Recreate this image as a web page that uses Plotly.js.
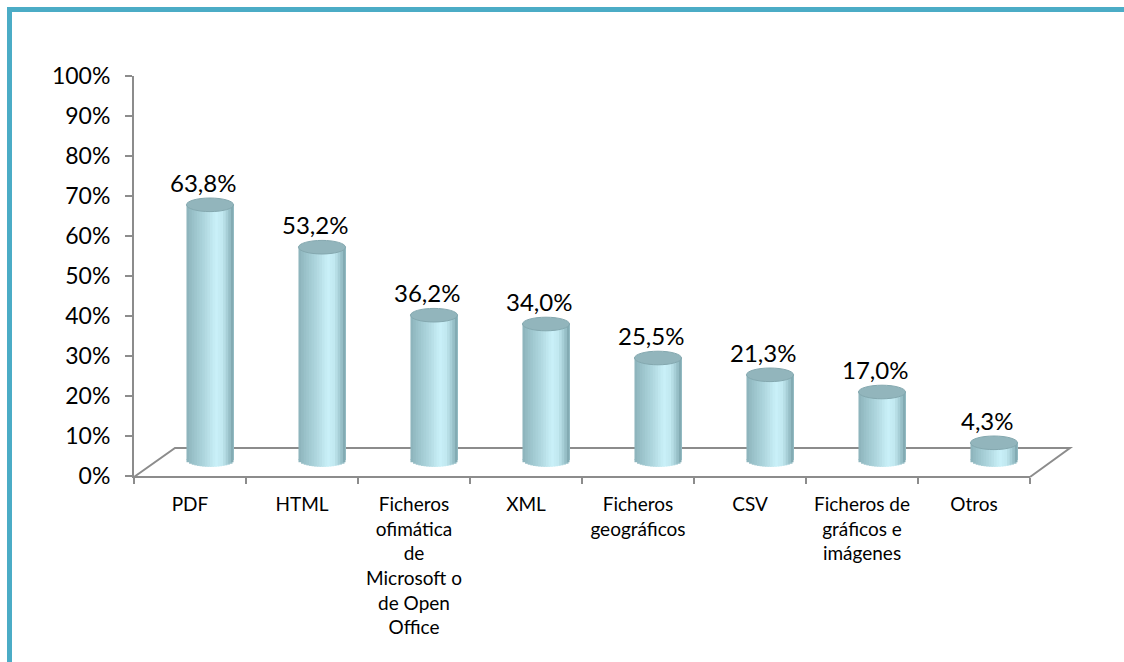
<!DOCTYPE html>
<html>
<head>
<meta charset="utf-8">
<script src="https://cdn.plot.ly/plotly-3.0.1.min.js"></script>
<style>
  html, body { margin: 0; padding: 0; background: #ffffff; }
  #wrap { position: relative; width: 1124px; height: 662px; overflow: hidden; }
  #chart { position: absolute; left: 0; top: 0; width: 1124px; height: 662px; }
  #frame { position: absolute; left: 7px; top: 7px; width: 1200px; height: 700px;
           border-left: 5px solid #4bacc6; border-top: 5px solid #4bacc6; pointer-events: none; }
</style>
</head>
<body>
<div id="wrap">
  <div id="chart"></div>
  <div id="frame"></div>
</div>
<script>
// ---- data ----
const categories = [
  'PDF',
  'HTML',
  'Ficheros<br>ofimática<br>de<br>Microsoft o<br>de Open<br>Office',
  'XML',
  'Ficheros<br>geográficos',
  'CSV',
  'Ficheros de<br>gráficos e<br>imágenes',
  'Otros'
];
const values = [0.638, 0.532, 0.362, 0.340, 0.255, 0.213, 0.170, 0.043];
const valueLabels = ['63,8%', '53,2%', '36,2%', '34,0%', '25,5%', '21,3%', '17,0%', '4,3%'];

// ---- geometry (pixels) ----
const W = 1124, H = 662;
const L = 134, R = 54, T = 56, B = 176;       // margins
const plotW = W - L - R;                      // 936
const plotH = H - T - B;                      // 430
const catW = 896;                             // width of front category axis
const zeroPx = 476, hundredPx = 76;           // main y axis pixels
const dx = 20, dy = 16;                       // depth offset of cylinders
const pxPerUnit = zeroPx - hundredPx;         // 400

const py = p => (H - B - p) / plotH;          // pixel -> paper y
const px = p => (p - L) / plotW;              // pixel -> paper x

// cylinder axes ranges/domains
const y2min = -0.04, y2max = 1.0;
const zero2 = zeroPx - dy;
const y2dom = [py(zero2 - y2min * pxPerUnit), py(zero2 - y2max * pxPerUnit)];

const r = 0.21;          // cylinder half-width (category units)
const e = 0.017;         // ellipse vertical semi-axis (value units)
const N = 18;            // strips for shading

function bright(t) {
  const pts = [[-1, 0.55], [-0.7, 0.66], [-0.2, 0.82], [0.25, 1.0], [0.55, 0.93], [0.85, 0.62], [1, 0.42]];
  for (let i = 0; i < pts.length - 1; i++) {
    if (t >= pts[i][0] && t <= pts[i + 1][0]) {
      const f = (t - pts[i][0]) / (pts[i + 1][0] - pts[i][0]);
      return pts[i][1] + f * (pts[i + 1][1] - pts[i][1]);
    }
  }
  return 0.5;
}
const dark = [62, 102, 110], light = [202, 241, 249];
function col(t) {
  const b = bright(t);
  const c = dark.map((d, i) => Math.round(d + (light[i] - d) * b));
  return 'rgb(' + c.join(',') + ')';
}

// invisible trace so the main (front) axes are drawn
const traces = [{
  type: 'scatter', x: categories, y: values, xaxis: 'x', yaxis: 'y',
  mode: 'markers', marker: { opacity: 0, size: 1 }, hoverinfo: 'skip', showlegend: false
}];
const shapes = [];
const w = 2 * r / N;
for (let k = 0; k < N; k++) {
  const off = -r + k * w;
  const tc = (off + w / 2) / r;
  const c = col(tc);
  // each strip reaches to the right edge; later strips cover earlier ones (no seams)
  traces.push({
    type: 'bar', x: categories, y: values,
    xaxis: 'x2', yaxis: 'y2',
    width: r - off, offset: off,
    marker: { color: c, line: { width: 0 } },
    hoverinfo: 'skip', showlegend: false
  });
  // rounded bottom of each strip
  const depth = e * Math.sqrt(Math.max(0, 1 - tc * tc));
  categories.forEach((cat, i) => {
    shapes.push({
      type: 'rect', xref: 'x2', yref: 'y2', layer: 'below',
      x0: i + off, x1: i + Math.min(r, off + w * 1.6), y0: -depth, y1: 0.002,
      fillcolor: c, line: { width: 0 }
    });
  });
}
// top ellipses
values.forEach((v, i) => {
  shapes.push({
    type: 'circle', xref: 'x2', yref: 'y2', layer: 'above',
    x0: i - r, x1: i + r, y0: v - e, y1: v + e,
    fillcolor: '#92b5bc', line: { color: '#84a8af', width: 1 }
  });
});
// floor (3D base)
const floorPath = 'M ' + px(L) + ' ' + py(zeroPx + 1) +
  ' L ' + px(L + 41) + ' ' + py(zeroPx - 28) +
  ' L ' + px(L + catW + 40) + ' ' + py(zeroPx - 28) +
  ' L ' + px(L + catW) + ' ' + py(zeroPx + 1);
shapes.push({
  type: 'path', xref: 'paper', yref: 'paper', layer: 'below',
  path: floorPath, line: { color: '#8c8c8c', width: 2 }
});

const annotations = values.map((v, i) => ({
  xref: 'x2', yref: 'y2', x: i, y: v + e,
  text: valueLabels[i], showarrow: false,
  xanchor: 'center', yanchor: 'bottom', xshift: -7, yshift: -1,
  font: { family: 'Lato, "Open Sans", sans-serif', size: 24, color: '#000000' }
}));

const layout = {
  width: W, height: H,
  margin: { l: L, r: R, t: T, b: B },
  paper_bgcolor: '#ffffff',
  plot_bgcolor: 'rgba(0,0,0,0)',
  separators: ',.',
  barmode: 'overlay',
  showlegend: false,
  font: { family: 'Lato, "Open Sans", sans-serif', color: '#000000' },
  xaxis: {
    type: 'category', domain: [0, catW / plotW], anchor: 'y',
    range: [-0.5, categories.length - 0.5],
    showline: true, linecolor: '#8c8c8c', linewidth: 2,
    ticks: 'outside', tickson: 'boundaries', ticklen: 6, tickcolor: '#8c8c8c', tickwidth: 2,
    showgrid: false, zeroline: false,
    tickfont: { size: 19, color: '#000000' }, ticklabelstandoff: 10,
    fixedrange: true
  },
  yaxis: {
    domain: [py(zeroPx), py(hundredPx)], anchor: 'x',
    range: [0, 1], tickvals: [0, 0.1, 0.2, 0.3, 0.4, 0.5, 0.6, 0.7, 0.8, 0.9, 1.0],
    tickformat: '.0%',
    showline: true, linecolor: '#8c8c8c', linewidth: 2,
    ticks: 'outside', ticklen: 7, tickcolor: '#8c8c8c', tickwidth: 2,
    showgrid: false, zeroline: false,
    tickfont: { size: 23, color: '#000000' }, ticklabelstandoff: 10,
    fixedrange: true
  },
  xaxis2: {
    type: 'category', domain: [dx / plotW, (catW + dx) / plotW], anchor: 'y2',
    range: [-0.5, categories.length - 0.5], visible: false, fixedrange: true
  },
  yaxis2: {
    domain: y2dom, anchor: 'x2', range: [y2min, y2max], visible: false, fixedrange: true
  },
  shapes: shapes,
  annotations: annotations
};

Plotly.newPlot('chart', traces, layout, { staticPlot: true, displayModeBar: false });
</script>
</body>
</html>
